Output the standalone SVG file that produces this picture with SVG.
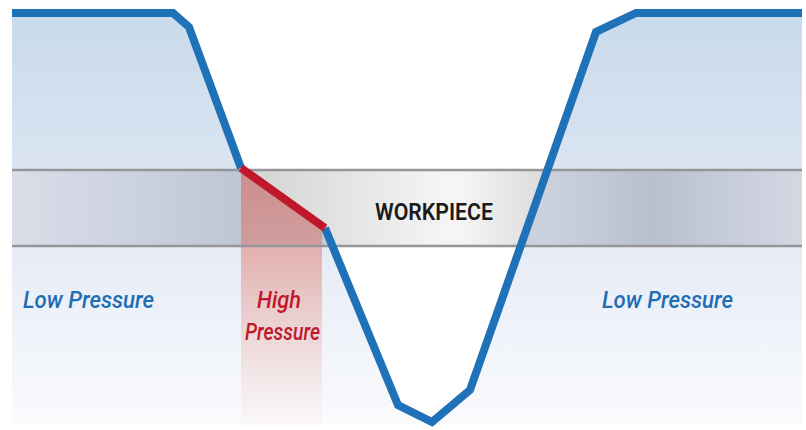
<svg xmlns="http://www.w3.org/2000/svg" width="806" height="430" viewBox="0 0 806 430">
  <defs>
    <linearGradient id="bgGrad" x1="0" y1="0" x2="0" y2="1">
      <stop offset="0" stop-color="#c8daec"/>
      <stop offset="0.4" stop-color="#dce5f2"/>
      <stop offset="0.7" stop-color="#ecf0f8"/>
      <stop offset="1" stop-color="#fafbfd"/>
    </linearGradient>
    <linearGradient id="bandOut" gradientUnits="userSpaceOnUse" x1="12" y1="0" x2="802" y2="0">
      <stop offset="0" stop-color="#d9dee9"/>
      <stop offset="0.28" stop-color="#c0c7d4"/>
      <stop offset="0.68" stop-color="#cbd1dd"/>
      <stop offset="0.81" stop-color="#b9c0cd"/>
      <stop offset="1" stop-color="#d3d8e3"/>
    </linearGradient>
    <linearGradient id="bandIn" gradientUnits="userSpaceOnUse" x1="241" y1="0" x2="545" y2="0">
      <stop offset="0" stop-color="#d2d2d2"/>
      <stop offset="0.7" stop-color="#f6f6f6"/>
      <stop offset="1" stop-color="#dcdcdc"/>
    </linearGradient>
    <linearGradient id="pinkGrad" x1="0" y1="0" x2="0" y2="1">
      <stop offset="0" stop-color="#d85a50" stop-opacity="0.55"/>
      <stop offset="0.35" stop-color="#e07060" stop-opacity="0.45"/>
      <stop offset="1" stop-color="#f0a090" stop-opacity="0.04"/>
    </linearGradient>
    <clipPath id="bandClip">
      <rect x="12" y="170" width="790" height="76"/>
    </clipPath>
    <style>
      .profile { fill: none; stroke: #1f71b8; stroke-width: 8; stroke-linejoin: miter; stroke-linecap: butt; }
      .hot { fill: none; stroke: #c0172a; stroke-width: 8; stroke-linecap: butt; }
      .edge { stroke: #96969a; stroke-width: 2.5; fill: none; }
      .lbl { font-family: Roboto, "Liberation Sans", sans-serif; font-style: italic; font-weight: 500; font-size: 24px; }
      .blue { fill: #1f6db5; }
      .red { fill: #c0172a; }
      .wp { font-family: Roboto, "Liberation Sans", sans-serif; font-weight: 600; font-size: 23.5px; fill: #1a1a1a; }
    </style>
  </defs>

  <g id="background">
    <rect x="12" y="13" width="790" height="412" fill="url(#bgGrad)"/>
    <polygon points="173,13 189,27 241,168 325,228 398,405 432,422 470,390 596,32 636,13" fill="#ffffff"/>
  </g>

  <g id="workpiece">
    <rect x="12" y="170" width="790" height="76" fill="url(#bandOut)"/>
    <polygon clip-path="url(#bandClip)" points="173,13 189,27 241,168 325,228 398,405 432,422 470,390 596,32 636,13" fill="url(#bandIn)"/>
    <polygon points="241,169 322,226 322,425 241,425" fill="url(#pinkGrad)"/>
    <line class="edge" x1="12" y1="170" x2="802" y2="170"/>
    <line class="edge" x1="12" y1="246" x2="802" y2="246"/>
    <text class="wp" x="375" y="220" textLength="118" lengthAdjust="spacingAndGlyphs">WORKPIECE</text>
  </g>

  <g id="connectors">
    <polyline class="profile" points="12,13 173,13 189,27 241,168"/>
    <polyline class="profile" points="325,228 398,405 432,422 470,390 596,32 636,13 802,13"/>
    <line class="hot" x1="241" y1="168" x2="325" y2="228"/>
  </g>

  <g id="label-low-left">
    <text class="lbl blue" x="23" y="308" textLength="131" lengthAdjust="spacingAndGlyphs">Low Pressure</text>
  </g>
  <g id="label-high">
    <text class="lbl red" x="257" y="308" textLength="44" lengthAdjust="spacingAndGlyphs">High</text>
    <text class="lbl red" x="245" y="340" textLength="75" lengthAdjust="spacingAndGlyphs">Pressure</text>
  </g>
  <g id="label-low-right">
    <text class="lbl blue" x="602" y="308" textLength="131" lengthAdjust="spacingAndGlyphs">Low Pressure</text>
  </g>
</svg>
